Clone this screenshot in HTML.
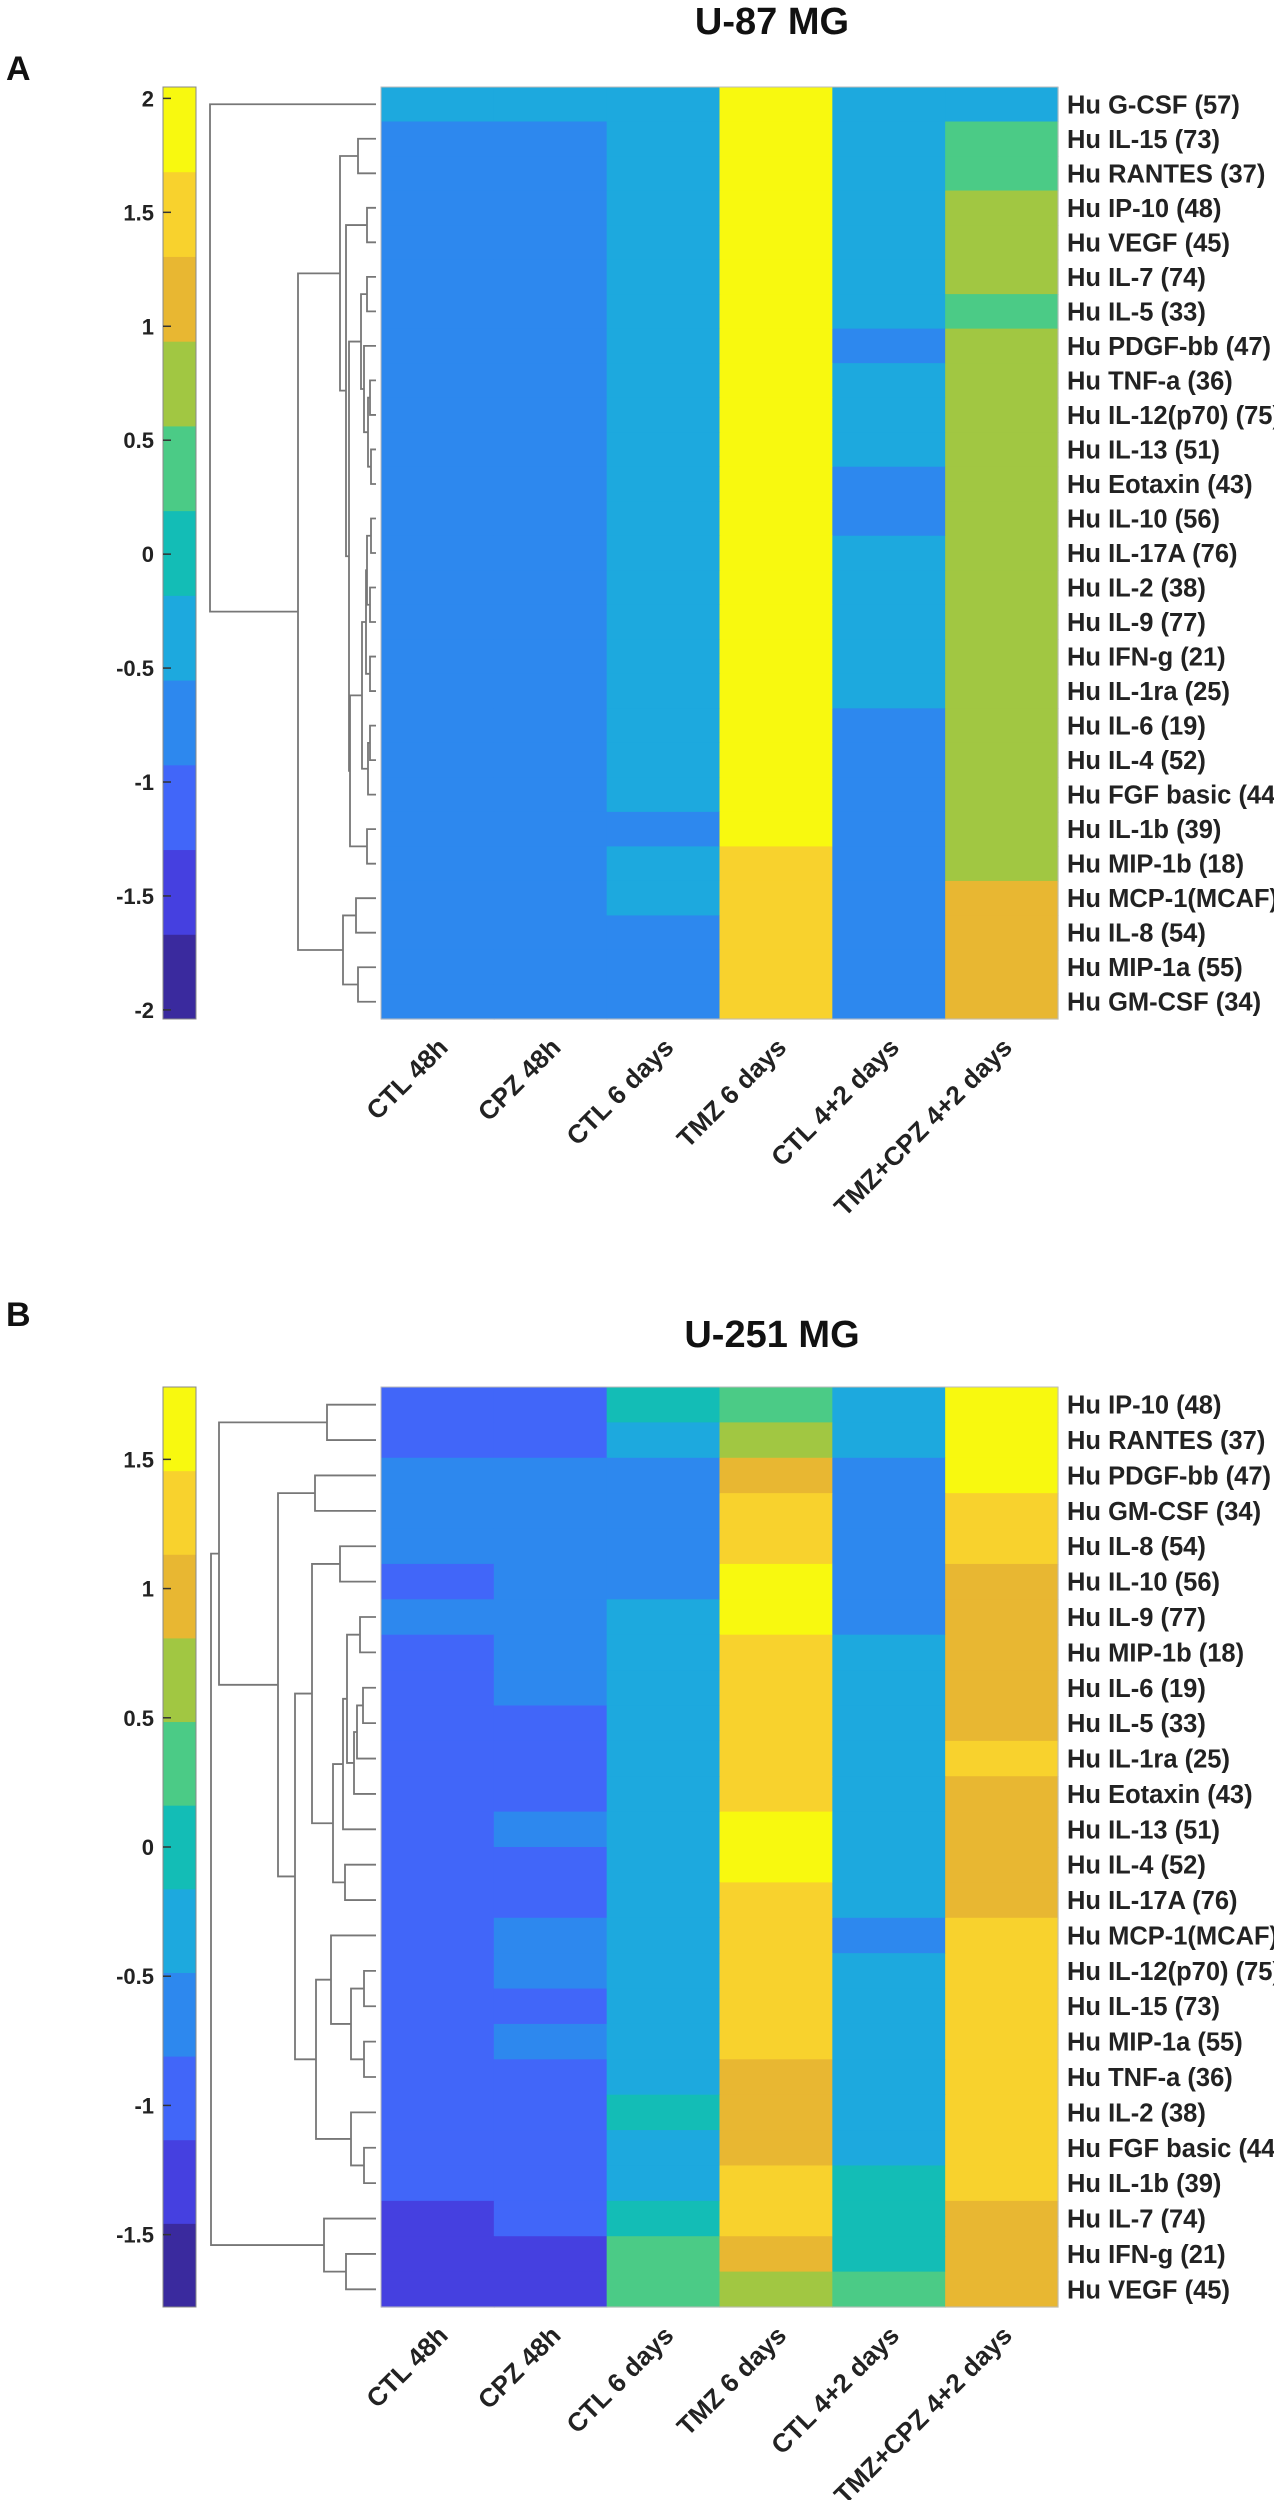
<!DOCTYPE html>
<html><head><meta charset="utf-8">
<style>
html,body{margin:0;padding:0;background:#fff;overflow:hidden;}
svg{display:block;font-family:"Liberation Sans",Arial,sans-serif;}
</style></head>
<body>
<svg id="fig" width="1274" height="2500" viewBox="0 0 1274 2500" xmlns="http://www.w3.org/2000/svg"></svg>
<script>
const columns = ["CTL 48h","CPZ 48h","CTL 6 days","TMZ 6 days","CTL 4+2 days","TMZ+CPZ 4+2 days"];
const rowsA = ["Hu G-CSF (57)","Hu IL-15 (73)","Hu RANTES (37)","Hu IP-10 (48)","Hu VEGF (45)","Hu IL-7 (74)","Hu IL-5 (33)","Hu PDGF-bb (47)","Hu TNF-a (36)","Hu IL-12(p70) (75)","Hu IL-13 (51)","Hu Eotaxin (43)","Hu IL-10 (56)","Hu IL-17A (76)","Hu IL-2 (38)","Hu IL-9 (77)","Hu IFN-g (21)","Hu IL-1ra (25)","Hu IL-6 (19)","Hu IL-4 (52)","Hu FGF basic (44)","Hu IL-1b (39)","Hu MIP-1b (18)","Hu MCP-1(MCAF)","Hu IL-8 (54)","Hu MIP-1a (55)","Hu GM-CSF (34)"];
const valuesA = [
[-0.37,-0.37,-0.37,1.86,-0.37,-0.37],
[-0.74,-0.74,-0.37,1.86,-0.37,0.37],
[-0.74,-0.74,-0.37,1.86,-0.37,0.37],
[-0.74,-0.74,-0.37,1.86,-0.37,0.75],
[-0.74,-0.74,-0.37,1.86,-0.37,0.75],
[-0.74,-0.74,-0.37,1.86,-0.37,0.75],
[-0.74,-0.74,-0.37,1.86,-0.37,0.37],
[-0.74,-0.74,-0.37,1.86,-0.74,0.75],
[-0.74,-0.74,-0.37,1.86,-0.37,0.75],
[-0.74,-0.74,-0.37,1.86,-0.37,0.75],
[-0.74,-0.74,-0.37,1.86,-0.37,0.75],
[-0.74,-0.74,-0.37,1.86,-0.74,0.75],
[-0.74,-0.74,-0.37,1.86,-0.74,0.75],
[-0.74,-0.74,-0.37,1.86,-0.37,0.75],
[-0.74,-0.74,-0.37,1.86,-0.37,0.75],
[-0.74,-0.74,-0.37,1.86,-0.37,0.75],
[-0.74,-0.74,-0.37,1.86,-0.37,0.75],
[-0.74,-0.74,-0.37,1.86,-0.37,0.75],
[-0.74,-0.74,-0.37,1.86,-0.74,0.75],
[-0.74,-0.74,-0.37,1.86,-0.74,0.75],
[-0.74,-0.74,-0.37,1.86,-0.74,0.75],
[-0.74,-0.74,-0.74,1.86,-0.74,0.75],
[-0.74,-0.74,-0.37,1.49,-0.74,0.75],
[-0.74,-0.74,-0.37,1.49,-0.74,1.12],
[-0.74,-0.74,-0.74,1.49,-0.74,1.12],
[-0.74,-0.74,-0.74,1.49,-0.74,1.12],
[-0.74,-0.74,-0.74,1.49,-0.74,1.12]];
const ticksA = [2,1.5,1,0.5,0,-0.5,-1,-1.5,-2];
const rangeA = [-2.04,2.05];
const mergesA = [[1,2,18],[3,4,9],[5,6,9],[8,9,6],[10,11,5],[30,31,8],[7,32,12],[29,33,15],[12,13,5],[14,15,6],[35,36,9],[16,17,6],[37,38,10],[18,19,6],[40,20,8],[39,41,14],[21,22,9],[42,43,26],[34,44,27],[28,45,30],[27,46,36],[23,24,20],[25,26,18],[48,49,33],[47,50,78],[0,51,166]];

const rowsB = ["Hu IP-10 (48)","Hu RANTES (37)","Hu PDGF-bb (47)","Hu GM-CSF (34)","Hu IL-8 (54)","Hu IL-10 (56)","Hu IL-9 (77)","Hu MIP-1b (18)","Hu IL-6 (19)","Hu IL-5 (33)","Hu IL-1ra (25)","Hu Eotaxin (43)","Hu IL-13 (51)","Hu IL-4 (52)","Hu IL-17A (76)","Hu MCP-1(MCAF)","Hu IL-12(p70) (75)","Hu IL-15 (73)","Hu MIP-1a (55)","Hu TNF-a (36)","Hu IL-2 (38)","Hu FGF basic (44)","Hu IL-1b (39)","Hu IL-7 (74)","Hu IFN-g (21)","Hu VEGF (45)"];
const valuesB = [
[-0.97,-0.97,0,0.32,-0.32,1.62],
[-0.97,-0.97,-0.32,0.65,-0.32,1.62],
[-0.64,-0.64,-0.64,0.97,-0.64,1.62],
[-0.64,-0.64,-0.64,1.29,-0.64,1.29],
[-0.64,-0.64,-0.64,1.29,-0.64,1.29],
[-0.97,-0.64,-0.64,1.62,-0.64,0.97],
[-0.64,-0.64,-0.32,1.62,-0.64,0.97],
[-0.97,-0.64,-0.32,1.29,-0.32,0.97],
[-0.97,-0.64,-0.32,1.29,-0.32,0.97],
[-0.97,-0.97,-0.32,1.29,-0.32,0.97],
[-0.97,-0.97,-0.32,1.29,-0.32,1.29],
[-0.97,-0.97,-0.32,1.29,-0.32,0.97],
[-0.97,-0.64,-0.32,1.62,-0.32,0.97],
[-0.97,-0.97,-0.32,1.62,-0.32,0.97],
[-0.97,-0.97,-0.32,1.29,-0.32,0.97],
[-0.97,-0.64,-0.32,1.29,-0.64,1.29],
[-0.97,-0.64,-0.32,1.29,-0.32,1.29],
[-0.97,-0.97,-0.32,1.29,-0.32,1.29],
[-0.97,-0.64,-0.32,1.29,-0.32,1.29],
[-0.97,-0.97,-0.32,0.97,-0.32,1.29],
[-0.97,-0.97,0,0.97,-0.32,1.29],
[-0.97,-0.97,-0.32,0.97,-0.32,1.29],
[-0.97,-0.97,-0.32,1.29,0,1.29],
[-1.29,-0.97,0,1.29,0,0.97],
[-1.29,-1.29,0.32,0.97,0,0.97],
[-1.29,-1.29,0.32,0.65,0.32,0.97]];
const ticksB = [1.5,1,0.5,0,-0.5,-1,-1.5];
const rangeB = [-1.78,1.78];
const mergesB = [[0,1,49],[2,3,61],[4,5,36],[6,7,16],[8,9,13],[30,10,19],[31,11,22],[29,32,29],[33,12,33],[13,14,31],[34,35,43],[28,36,64],[16,17,12],[18,19,12],[38,39,25],[15,40,45],[21,22,12],[20,42,25],[41,43,60],[37,44,81],[27,45,98],[26,46,157],[24,25,30],[23,48,52],[47,49,165]];

const palette = ["#3a2a9e","#4540e0","#4166f9","#2d88ee","#1da9de","#13bdb6","#4bcb86","#a1c742","#e8b732","#f8d22d","#f8f90f"];

const NS = "http://www.w3.org/2000/svg";
const svg = document.getElementById("fig");
function mk(tag, attrs, parent){
  const e = document.createElementNS(NS, tag);
  for (const k in attrs) e.setAttribute(k, attrs[k]);
  (parent||svg).appendChild(e);
  return e;
}

function panel(cfg){
  const g = mk("g", {});
  
  
  const hmL = 381, hmR = 1058, top = cfg.top, bot = cfg.bot;
  const nR = cfg.rows.length, nC = columns.length;
  const rh = (bot - top) / nR, cw = (hmR - hmL) / nC;
  const xCol = c => hmL + c * cw;
  const yRow = r => top + r * rh;
  const lo = cfg.range[0], hi = cfg.range[1], nb = palette.length;
  const colorOf = v => { let k = Math.floor((v - lo) / (hi - lo) * nb); k = Math.max(0, Math.min(nb - 1, k)); return palette[k]; };
  const yVal = v => bot - (v - lo) / (hi - lo) * (bot - top);

  const letter = mk("text", {x: 6, y: cfg.letterY, "font-size": 34, "font-weight": "bold", fill: "#111"}, g);
  letter.textContent = cfg.letter;
  
  

  const title = mk("text", {x: 772, y: cfg.titleY, "font-size": 38, "font-weight": "bold", "text-anchor": "middle", fill: "#111"}, g);
  title.textContent = cfg.title;
  
  

  const cb = mk("g", {}, g);
  
  
  for (let k = 0; k < nb; k++){
    const y1 = bot - (k + 1) * (bot - top) / nb;
    const r = mk("rect", {x: 163, y: y1, width: 33, height: (bot - top) / nb + 0.5, fill: palette[k]}, cb);
    
    
  }
  mk("rect", {x: 163, y: top, width: 33, height: bot - top, fill: "none", stroke: "#888", "stroke-width": 1}, cb);
  cfg.ticks.forEach(t => {
    const y = yVal(t);
    mk("line", {x1: 163, x2: 171, y1: y, y2: y, stroke: "#333", "stroke-width": 1.5}, cb);
    const tl = mk("text", {x: 154, y: y + 8, "font-size": 22, "font-weight": "bold", "text-anchor": "end", fill: "#222"}, cb);
    tl.textContent = String(t);
    
    
  });

  const hm = mk("g", {}, g);
  
  
  cfg.values.forEach((row, r) => row.forEach((v, c) => {
    const cell = mk("rect", {x: xCol(c), y: yRow(r), width: cw + 0.6, height: rh + 0.6, fill: colorOf(v)}, hm);
    
    
  }));
  mk("rect", {x: hmL, y: top, width: hmR - hmL, height: bot - top, fill: "none", stroke: "#bbb", "stroke-width": 1}, hm);

  cfg.rows.forEach((name, r) => {
    const t = mk("text", {x: 1067, y: yRow(r) + rh / 2 + 9, "font-size": 25.5, "font-weight": "bold", fill: "#222"}, g);
    t.textContent = name;
    
    
  });
  columns.forEach((name, c) => {
    const x = xCol(c) + cw / 2 + 12, y = bot + 30;
    const t = mk("text", {x: x, y: y, "font-size": 26, "font-weight": "bold", "text-anchor": "end", fill: "#222", transform: "rotate(-45 " + x + " " + y + ")"}, g);
    t.textContent = name;
    
    
  });

  const dg = mk("g", {stroke: "#777", "stroke-width": 1.8, fill: "none"}, g);
  
  
  const leafX = 376;
  const pos = [];
  for (let i = 0; i < nR; i++) pos.push({x: leafX, y: yRow(i) + rh / 2});
  cfg.merges.forEach(m => {
    const a = pos[m[0]], b = pos[m[1]], x = leafX - m[2];
    mk("path", {d: "M" + a.x + " " + a.y + "H" + x + "V" + b.y + "H" + b.x}, dg);
    pos.push({x: x, y: (a.y + b.y) / 2});
  });
}

panel({name: "panel-a-u87", letter: "A", letterY: 80, title: "U-87 MG", titleY: 34, top: 87, bot: 1019, rows: rowsA, values: valuesA, ticks: ticksA, range: rangeA, merges: mergesA});
panel({name: "panel-b-u251", letter: "B", letterY: 1326, title: "U-251 MG", titleY: 1347, top: 1387, bot: 2307, rows: rowsB, values: valuesB, ticks: ticksB, range: rangeB, merges: mergesB});
</script>
</body></html>
